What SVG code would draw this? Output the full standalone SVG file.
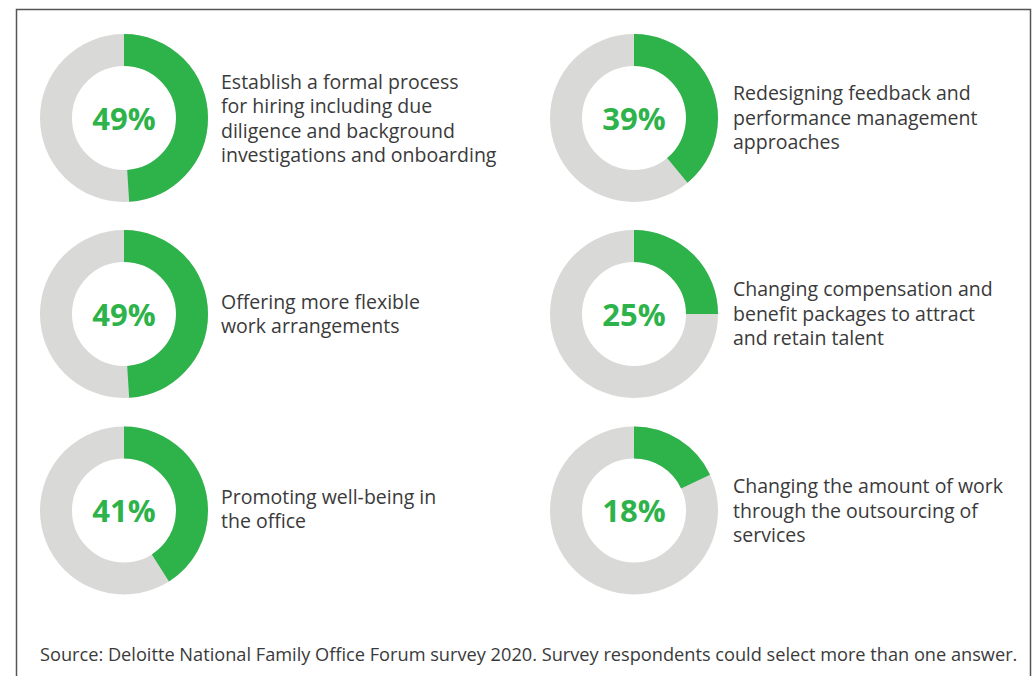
<svg xmlns="http://www.w3.org/2000/svg" width="1033" height="676" viewBox="0 0 1033 676">
<style>
.ring{fill:none;stroke:#d9d9d8;stroke-width:32}
.arc{fill:none;stroke:#2db34a;stroke-width:32}
.pct{font-family:"Open Sans","Liberation Sans",sans-serif;font-weight:bold;font-size:31px;fill:#2db34a;text-anchor:middle}
.lbl{font-family:"Open Sans","Liberation Sans",sans-serif;font-size:19.5px;fill:#3a3a3a}
.src{font-family:"Open Sans","Liberation Sans",sans-serif;font-size:18.2px;fill:#3a3a3a}
</style>
<rect width="1033" height="676" fill="#fff"/>
<path d="M16.5,690 V9.5 H1030.5 V690" fill="none" stroke="#555" stroke-width="1.5"/>

<g id="n1">
<circle class="ring" cx="124" cy="118" r="68"/>
<circle class="arc" cx="124" cy="118" r="68" pathLength="100" stroke-dasharray="49 100" transform="rotate(-90 124 118)"/>
<text class="pct" x="124" y="129.5">49%</text>
<text class="lbl"><tspan x="221" y="88.8">Establish a formal process</tspan><tspan x="221" y="113.3">for hiring including due</tspan><tspan x="221" y="137.8">diligence and background</tspan><tspan x="221" y="162.3">investigations and onboarding</tspan></text>
</g>

<g id="n2">
<circle class="ring" cx="634" cy="118" r="68"/>
<circle class="arc" cx="634" cy="118" r="68" pathLength="100" stroke-dasharray="39 100" transform="rotate(-90 634 118)"/>
<text class="pct" x="634" y="129.5">39%</text>
<text class="lbl"><tspan x="733" y="100">Redesigning feedback and</tspan><tspan x="733" y="124.5">performance management</tspan><tspan x="733" y="149">approaches</tspan></text>
</g>

<g id="n3">
<circle class="ring" cx="124" cy="314" r="68"/>
<circle class="arc" cx="124" cy="314" r="68" pathLength="100" stroke-dasharray="49 100" transform="rotate(-90 124 314)"/>
<text class="pct" x="124" y="325.5">49%</text>
<text class="lbl"><tspan x="221" y="308.5">Offering more flexible</tspan><tspan x="221" y="333">work arrangements</tspan></text>
</g>

<g id="n4">
<circle class="ring" cx="634" cy="314" r="68"/>
<circle class="arc" cx="634" cy="314" r="68" pathLength="100" stroke-dasharray="25 100" transform="rotate(-90 634 314)"/>
<text class="pct" x="634" y="325.5">25%</text>
<text class="lbl"><tspan x="733" y="296.2">Changing compensation and</tspan><tspan x="733" y="320.7">benefit packages to attract</tspan><tspan x="733" y="345.2">and retain talent</tspan></text>
</g>

<g id="n5">
<circle class="ring" cx="124" cy="510.5" r="68"/>
<circle class="arc" cx="124" cy="510.5" r="68" pathLength="100" stroke-dasharray="41 100" transform="rotate(-90 124 510.5)"/>
<text class="pct" x="124" y="522">41%</text>
<text class="lbl"><tspan x="221" y="503.5">Promoting well-being in</tspan><tspan x="221" y="528">the office</tspan></text>
</g>

<g id="n6">
<circle class="ring" cx="634" cy="510.5" r="68"/>
<circle class="arc" cx="634" cy="510.5" r="68" pathLength="100" stroke-dasharray="18 100" transform="rotate(-90 634 510.5)"/>
<text class="pct" x="634" y="522">18%</text>
<text class="lbl"><tspan x="733" y="493">Changing the amount of work</tspan><tspan x="733" y="517.5">through the outsourcing of</tspan><tspan x="733" y="542">services</tspan></text>
</g>

<g id="connectors"></g>

<text class="src" x="40" y="661">Source: Deloitte National Family Office Forum survey 2020. Survey respondents could select more than one answer.</text>
</svg>
